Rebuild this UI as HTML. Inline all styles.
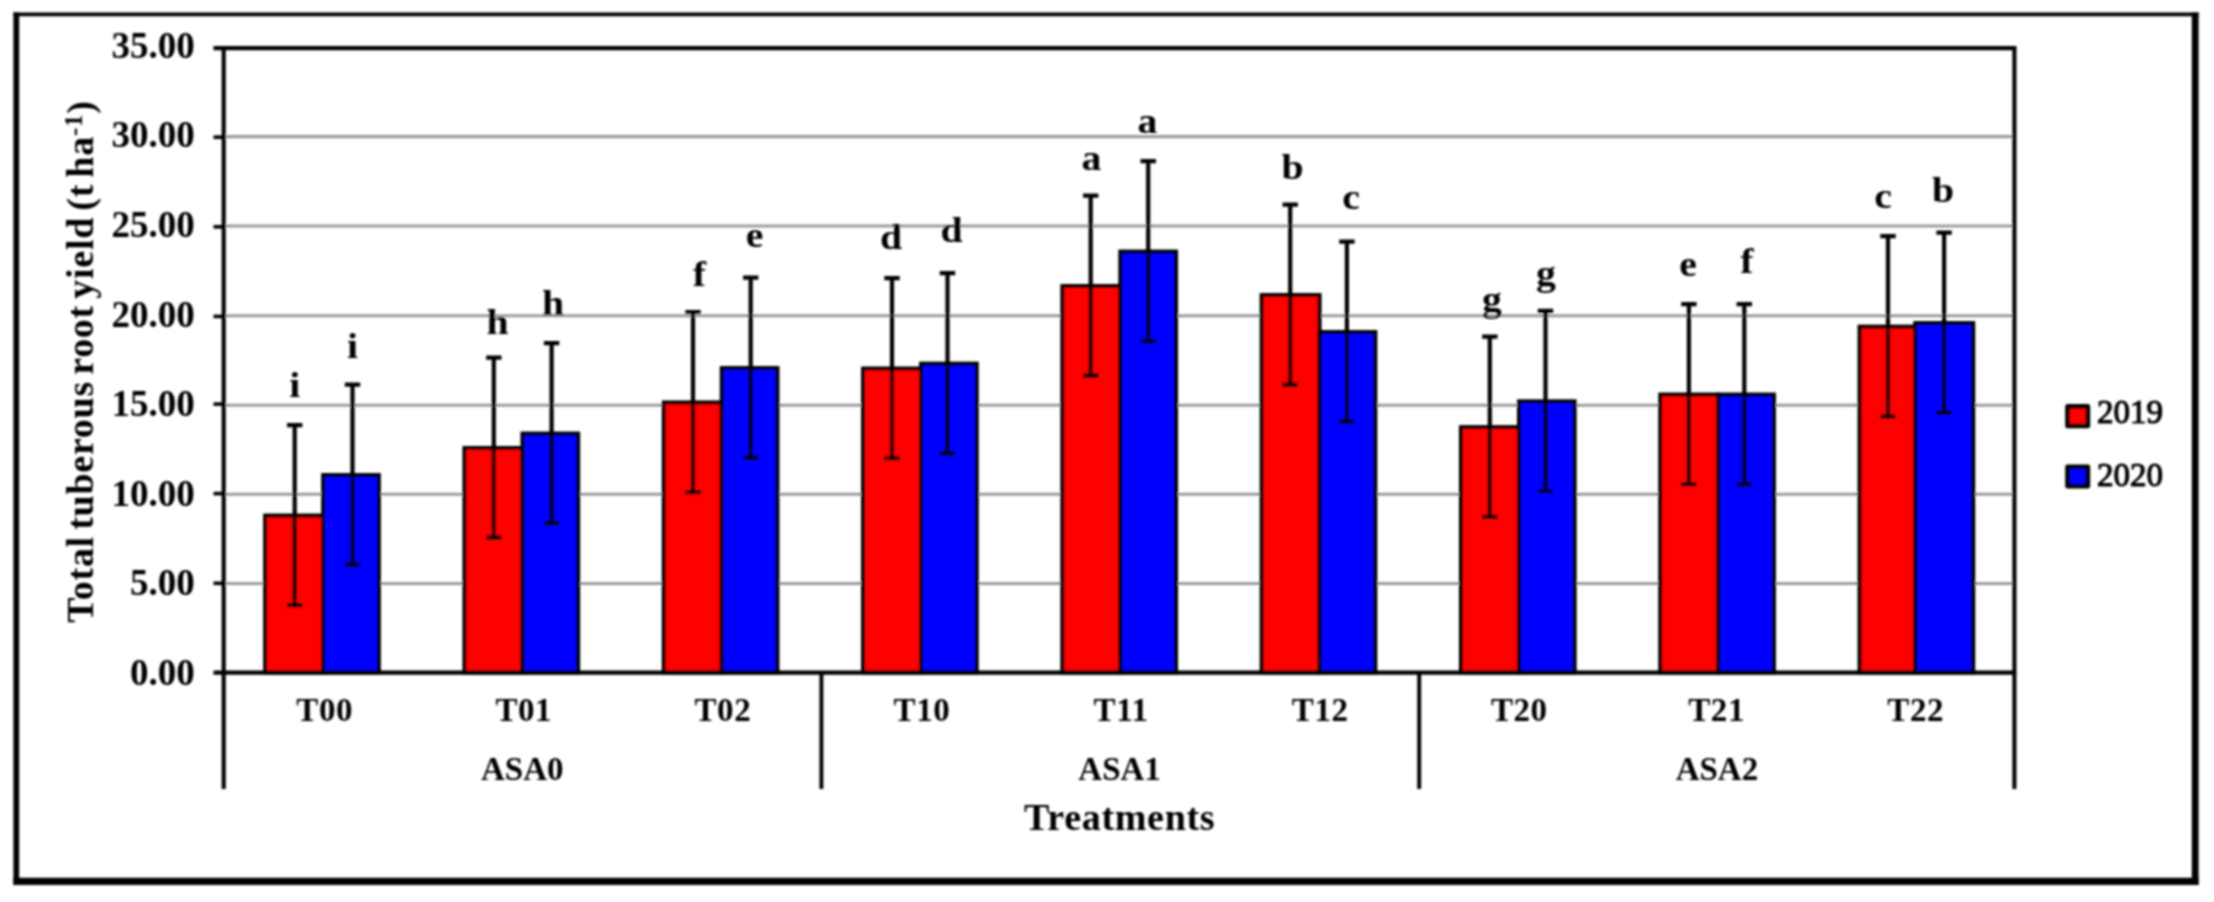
<!DOCTYPE html>
<html lang="en"><head><meta charset="utf-8"><title>Total tuberous root yield</title>
<style>
html,body{margin:0;padding:0;background:#fff;}
body{width:2214px;height:902px;overflow:hidden;}
svg{display:block;}
text{font-family:"Liberation Serif","DejaVu Serif",serif;fill:#000;}
.tk{font-size:37px;font-weight:bold;}
.cat{font-size:33px;font-weight:bold;letter-spacing:0.6px;}
.lt{font-size:35.5px;font-weight:bold;}
.ttl{font-size:38px;font-weight:bold;letter-spacing:0.7px;}
.yt{font-size:38px;font-weight:bold;letter-spacing:0.74px;word-spacing:-4px;}
.lg{font-size:33px;stroke:#000;stroke-width:1.1px;}
</style></head><body>
<svg width="2214" height="902" viewBox="0 0 2214 902">
<defs><filter id="soft" x="0" y="0" width="2214" height="902" filterUnits="userSpaceOnUse"><feGaussianBlur stdDeviation="0.9"/></filter></defs>
<rect x="0" y="0" width="2214" height="902" fill="#fff"/>
<g filter="url(#soft)">

<g stroke="#000" fill="none">
<line x1="16.3" y1="12.6" x2="16.3" y2="884.9" stroke-width="5.8"/>
<line x1="13.4" y1="14.4" x2="2198.6" y2="14.4" stroke-width="3.6"/>
<line x1="2195.2" y1="12.6" x2="2195.2" y2="884.9" stroke-width="6.8"/>
<line x1="13.4" y1="881.3" x2="2198.6" y2="881.3" stroke-width="7.2"/>
</g>
<g stroke="#9c9c9c" stroke-width="3.1">
<line x1="224" y1="583.5" x2="2014" y2="583.5"/>
<line x1="224" y1="494.3" x2="2014" y2="494.3"/>
<line x1="224" y1="405.2" x2="2014" y2="405.2"/>
<line x1="224" y1="315.8" x2="2014" y2="315.8"/>
<line x1="224" y1="226.0" x2="2014" y2="226.0"/>
<line x1="224" y1="136.6" x2="2014" y2="136.6"/>
</g>
<g stroke="#000" stroke-width="3.9" stroke-linejoin="miter">
<rect x="265.1" y="515.5" width="58.0" height="157.1" fill="#ff0000"/>
<rect x="323.1" y="475.0" width="55.8" height="197.6" fill="#0000ff"/>
<rect x="464.4" y="448.0" width="58.0" height="224.6" fill="#ff0000"/>
<rect x="522.4" y="433.5" width="55.8" height="239.1" fill="#0000ff"/>
<rect x="663.7" y="402.4" width="58.0" height="270.2" fill="#ff0000"/>
<rect x="721.7" y="368.0" width="55.8" height="304.6" fill="#0000ff"/>
<rect x="863.0" y="368.5" width="58.0" height="304.1" fill="#ff0000"/>
<rect x="921.0" y="363.6" width="55.8" height="309.0" fill="#0000ff"/>
<rect x="1062.3" y="286.0" width="58.0" height="386.6" fill="#ff0000"/>
<rect x="1120.3" y="251.5" width="55.8" height="421.1" fill="#0000ff"/>
<rect x="1261.6" y="295.0" width="58.0" height="377.6" fill="#ff0000"/>
<rect x="1319.6" y="332.0" width="55.8" height="340.6" fill="#0000ff"/>
<rect x="1460.9" y="427.1" width="58.0" height="245.5" fill="#ff0000"/>
<rect x="1518.9" y="401.3" width="55.8" height="271.3" fill="#0000ff"/>
<rect x="1660.2" y="394.5" width="58.0" height="278.1" fill="#ff0000"/>
<rect x="1718.2" y="394.5" width="55.8" height="278.1" fill="#0000ff"/>
<rect x="1859.5" y="326.6" width="55.7" height="346.0" fill="#ff0000"/>
<rect x="1915.2" y="323.0" width="58.1" height="349.6" fill="#0000ff"/>
</g>
<g stroke="#000" stroke-width="4.2" fill="none">
<path d="M294.7 425.1V605.2M287.0 425.1h15.4M287.0 605.2h15.4"/>
<path d="M352.5 384.6V564.7M344.8 384.6h15.4M344.8 564.7h15.4"/>
<path d="M493.8 357.6V537.7M486.1 357.6h15.4M486.1 537.7h15.4"/>
<path d="M551.6 343.1V523.2M543.9 343.1h15.4M543.9 523.2h15.4"/>
<path d="M693.0 312.0V492.1M685.3 312.0h15.4M685.3 492.1h15.4"/>
<path d="M750.7 277.6V457.7M743.0 277.6h15.4M743.0 457.7h15.4"/>
<path d="M892.0 278.1V458.2M884.3 278.1h15.4M884.3 458.2h15.4"/>
<path d="M947.5 273.2V453.3M939.8 273.2h15.4M939.8 453.3h15.4"/>
<path d="M1090.7 195.6V375.7M1083.0 195.6h15.4M1083.0 375.7h15.4"/>
<path d="M1148.2 161.1V341.2M1140.5 161.1h15.4M1140.5 341.2h15.4"/>
<path d="M1290.2 204.6V384.7M1282.5 204.6h15.4M1282.5 384.7h15.4"/>
<path d="M1346.9 241.6V421.7M1339.2 241.6h15.4M1339.2 421.7h15.4"/>
<path d="M1489.8 336.7V516.8M1482.1 336.7h15.4M1482.1 516.8h15.4"/>
<path d="M1545.5 310.9V491.0M1537.8 310.9h15.4M1537.8 491.0h15.4"/>
<path d="M1688.9 304.1V484.2M1681.2 304.1h15.4M1681.2 484.2h15.4"/>
<path d="M1744.3 304.1V484.2M1736.6 304.1h15.4M1736.6 484.2h15.4"/>
<path d="M1888.0 236.2V416.3M1880.3 236.2h15.4M1880.3 416.3h15.4"/>
<path d="M1944.1 232.6V412.7M1936.4 232.6h15.4M1936.4 412.7h15.4"/>
</g>
<g stroke="#000" fill="none">
<line x1="213.5" y1="48.1" x2="2016.2" y2="48.1" stroke-width="4.1"/>
<line x1="2014.4" y1="46.2" x2="2014.4" y2="789" stroke-width="4.1"/>
<line x1="223.7" y1="46.2" x2="223.7" y2="789" stroke-width="4.1"/>
<line x1="213.5" y1="672.6" x2="2016.2" y2="672.6" stroke-width="4.3"/>
<line x1="213.5" y1="583.3" x2="224" y2="583.3" stroke-width="3.6"/>
<line x1="213.5" y1="493.6" x2="224" y2="493.6" stroke-width="3.6"/>
<line x1="213.5" y1="404.1" x2="224" y2="404.1" stroke-width="3.6"/>
<line x1="213.5" y1="316.4" x2="224" y2="316.4" stroke-width="3.6"/>
<line x1="213.5" y1="226.8" x2="224" y2="226.8" stroke-width="3.6"/>
<line x1="213.5" y1="137.2" x2="224" y2="137.2" stroke-width="3.6"/>
<line x1="821.4" y1="672.6" x2="821.4" y2="789" stroke-width="3.9"/>
<line x1="1419.2" y1="672.6" x2="1419.2" y2="789" stroke-width="3.9"/>
</g>
<text class="tk" x="194.8" y="684.6" text-anchor="end">0.00</text>
<text class="tk" x="194.8" y="595.3" text-anchor="end">5.00</text>
<text class="tk" x="194.8" y="505.7" text-anchor="end">10.00</text>
<text class="tk" x="194.8" y="416.2" text-anchor="end">15.00</text>
<text class="tk" x="194.8" y="326.7" text-anchor="end">20.00</text>
<text class="tk" x="194.8" y="236.9" text-anchor="end">25.00</text>
<text class="tk" x="194.8" y="147.2" text-anchor="end">30.00</text>
<text class="tk" x="194.8" y="57.8" text-anchor="end">35.00</text>
<text class="cat" x="324.7" y="721" text-anchor="middle">T00</text>
<text class="cat" x="523.8" y="721" text-anchor="middle">T01</text>
<text class="cat" x="722.9" y="721" text-anchor="middle">T02</text>
<text class="cat" x="922.0" y="721" text-anchor="middle">T10</text>
<text class="cat" x="1121.1" y="721" text-anchor="middle">T11</text>
<text class="cat" x="1320.2" y="721" text-anchor="middle">T12</text>
<text class="cat" x="1519.3" y="721" text-anchor="middle">T20</text>
<text class="cat" x="1716.6" y="721" text-anchor="middle">T21</text>
<text class="cat" x="1915.7" y="721" text-anchor="middle">T22</text>
<text class="cat" style="letter-spacing:0" x="522.3" y="779.5" text-anchor="middle">ASA0</text>
<text class="cat" style="letter-spacing:0" x="1119.6" y="779.5" text-anchor="middle">ASA1</text>
<text class="cat" style="letter-spacing:0" x="1716.9" y="779.5" text-anchor="middle">ASA2</text>
<text class="lt" transform="translate(294.8 396.5) scale(1.12 1)" text-anchor="middle">i</text>
<text class="lt" transform="translate(352.5 357.5) scale(1.12 1)" text-anchor="middle">i</text>
<text class="lt" transform="translate(497.5 333.5) scale(1.12 1)" text-anchor="middle">h</text>
<text class="lt" transform="translate(553 314.5) scale(1.12 1)" text-anchor="middle">h</text>
<text class="lt" transform="translate(699.5 285.5) scale(1.12 1)" text-anchor="middle">f</text>
<text class="lt" transform="translate(754.5 246.5) scale(1.12 1)" text-anchor="middle">e</text>
<text class="lt" transform="translate(891 248.5) scale(1.12 1)" text-anchor="middle">d</text>
<text class="lt" transform="translate(951.5 241.5) scale(1.12 1)" text-anchor="middle">d</text>
<text class="lt" transform="translate(1091.5 169.5) scale(1.12 1)" text-anchor="middle">a</text>
<text class="lt" transform="translate(1147.5 133) scale(1.12 1)" text-anchor="middle">a</text>
<text class="lt" transform="translate(1292.5 178.5) scale(1.12 1)" text-anchor="middle">b</text>
<text class="lt" transform="translate(1351 208.5) scale(1.12 1)" text-anchor="middle">c</text>
<text class="lt" transform="translate(1492 311) scale(1.12 1)" text-anchor="middle">g</text>
<text class="lt" transform="translate(1546 284.5) scale(1.12 1)" text-anchor="middle">g</text>
<text class="lt" transform="translate(1688 276) scale(1.12 1)" text-anchor="middle">e</text>
<text class="lt" transform="translate(1747 272.5) scale(1.12 1)" text-anchor="middle">f</text>
<text class="lt" transform="translate(1883 208) scale(1.12 1)" text-anchor="middle">c</text>
<text class="lt" transform="translate(1943 202) scale(1.12 1)" text-anchor="middle">b</text>
<text class="ttl" x="1119.7" y="830.3" text-anchor="middle">Treatments</text>
<text class="yt" transform="translate(93.2 361.6) rotate(-90)" text-anchor="middle">Total tuberous root yield (t ha<tspan font-size="25" dy="-11.5">-1</tspan><tspan dy="11.5">)</tspan></text>
<g stroke="#000" stroke-width="4.6" stroke-linejoin="round">
<rect x="2067.5" y="406.4" width="20.4" height="19.6" fill="#ff0000"/>
<rect x="2067.5" y="466.7" width="20.4" height="19.5" fill="#0000ff"/>
</g>
<text class="lg" x="2097" y="423.2">2019</text>
<text class="lg" x="2097" y="486">2020</text>
</g>
</svg>
</body></html>
